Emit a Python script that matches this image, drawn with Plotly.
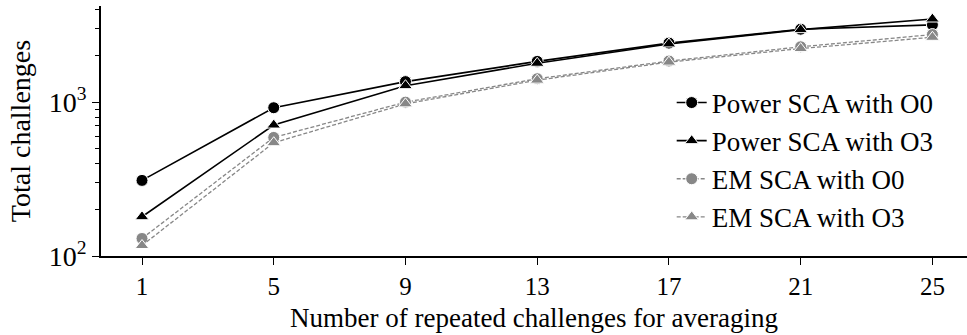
import plotly.graph_objects as go

# Number of repeated challenges used for averaging
repeats = [1, 5, 9, 13, 17, 21, 25]

# Total challenges needed per configuration
power_o0 = [310, 920, 1360, 1840, 2420, 2980, 3180]
power_o3 = [180, 710, 1280, 1790, 2390, 2960, 3470]
em_o0 = [130, 590, 1000, 1420, 1850, 2290, 2750]
em_o3 = [117, 545, 975, 1390, 1820, 2230, 2640]

series_names = ["Power SCA with O0", "Power SCA with O3", "EM SCA with O0", "EM SCA with O3"]

y_tickvals = [100, 1000]
y_ticktext = ["10<sup>2</sup>", "10<sup>3</sup>"]
y_minor = [200, 300, 400, 500, 600, 700, 800, 900, 2000, 3000, 4000]

FONT = "'Liberation Serif', 'Times New Roman', 'DejaVu Serif', serif"
BLACK = "#000000"
GREY = "#878787"

fig = go.Figure()

styles = [
    (power_o0, "circle", BLACK, "solid", 1.6),
    (power_o3, "triangle-up", BLACK, "solid", 1.6),
    (em_o0, "circle", GREY, "4px,2px", 1.3),
    (em_o3, "triangle-up", GREY, "4px,2px", 1.3),
]

for name, (vals, sym, col, dash, lw) in zip(series_names, styles):
    fig.add_trace(go.Scatter(
        x=repeats, y=vals, name=name, mode="lines+markers",
        line=dict(color=col, width=lw, dash=dash),
        marker=dict(symbol=sym, size=12, color=col,
                    line=dict(color="white", width=1)),
    ))

fig.update_layout(
    width=967, height=335,
    margin=dict(l=101, r=0, t=6, b=79),
    paper_bgcolor="white", plot_bgcolor="white",
    font=dict(family=FONT, size=28, color="black"),
    showlegend=True,
    legend=dict(
        x=0.659, y=0.71, xanchor="left", yanchor="top",
        bgcolor="rgba(0,0,0,0)", borderwidth=0,
        font=dict(family=FONT, size=27),
        tracegroupgap=0,
    ),
    annotations=[dict(
        text="Number of repeated challenges for averaging",
        xref="paper", yref="paper", x=0.5, y=-0.248,
        xanchor="center", yanchor="middle", showarrow=False,
        borderpad=0,
        font=dict(family=FONT, size=27, color="black"),
    )],
)

fig.update_xaxes(
    range=[-0.245, 26.05],
    tickvals=repeats, ticktext=[str(v) for v in repeats],
    showline=True, linecolor="black", linewidth=1.5,
    ticks="outside", ticklen=7, tickwidth=1.3, tickcolor="black",
    showgrid=False, zeroline=False, mirror=False,
    tickfont=dict(family=FONT, size=25),
)

fig.update_yaxes(
    type="log", range=[2, 3.625],
    tickvals=y_tickvals, ticktext=y_ticktext,
    showline=True, linecolor="black", linewidth=1.5,
    ticks="outside", ticklen=7, tickwidth=1.3, tickcolor="black",
    minor=dict(tickvals=y_minor, ticks="outside", ticklen=4,
               tickwidth=1, tickcolor="black", showgrid=False),
    showgrid=False, zeroline=False, mirror=False,
    tickfont=dict(family=FONT, size=28),
    title=dict(text="Total challenges",
               font=dict(family=FONT, size=28), standoff=10),
)

fig.write_html("out.html")
